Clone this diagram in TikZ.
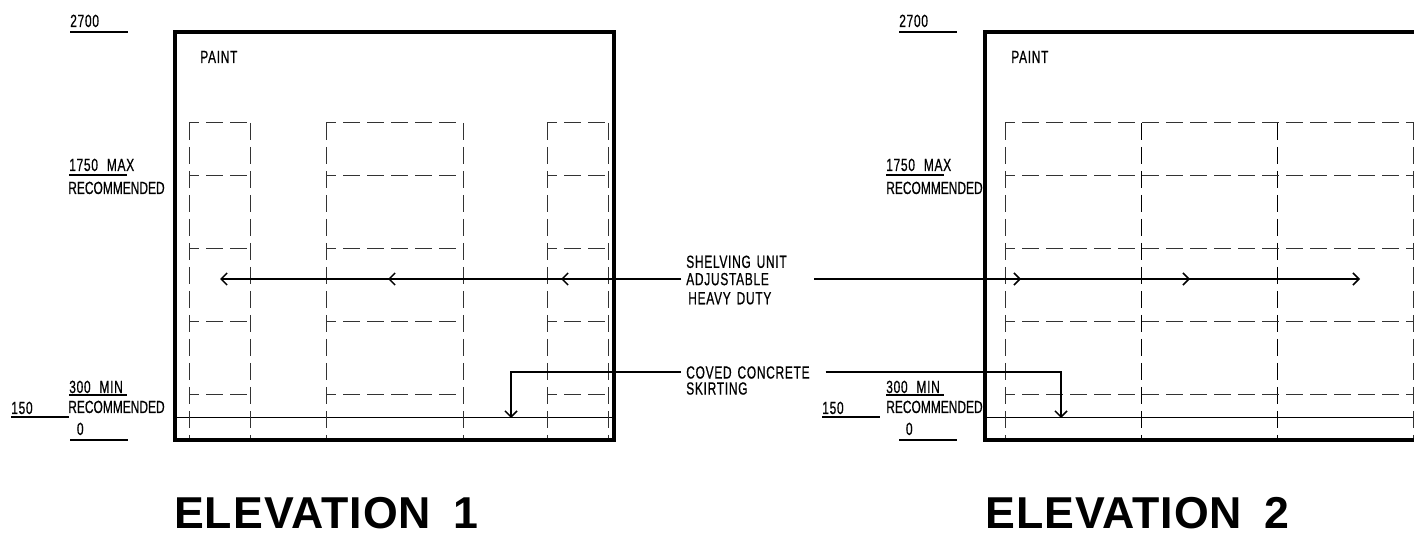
\documentclass[tikz,border=0pt]{standalone}
\usepackage{fontspec}
\usetikzlibrary{arrows.meta}
\newfontfamily\cadfont[FakeStretch=0.68,FakeBold=0.6,WordSpace=2.2,LetterSpace=4]{Liberation Sans}
\newfontfamily\cadtight[FakeStretch=0.68,FakeBold=0.6]{Liberation Sans}
\newfontfamily\titlefont[LetterSpace=2.2,WordSpace=1.7]{Liberation Sans Bold}
\tikzset{
    frameline/.style={line width=2.4pt},
    floorline/.style={line width=1pt},
    shelfline/.style={line width=0.75pt,dash pattern=on 12.75pt off 5.25pt,black!80},
    uprightline/.style={line width=0.7pt,dash pattern=on 12.75pt off 5.25pt,black},
    leader/.style={line width=1.1pt},
    leadertip/.style={leader,-{Straight Barb[length=4.5pt,width=9pt,line width=1.1pt]}},
    cadtext/.style={font=\cadfont\fontsize{13.2}{13.5}\selectfont,inner sep=0pt,anchor=base west},
    rectext/.style={font=\cadtight\fontsize{13.2}{13.5}\selectfont,inner sep=0pt,anchor=base west},
    calloutlabel/.style={font=\cadfont\fontsize{13.2}{13.5}\selectfont,inner xsep=3.75pt,inner ysep=0pt,align=left,anchor=west},
    titletext/.style={font=\titlefont\fontsize{33.5}{36}\selectfont,inner sep=0pt,anchor=base west}
}
\begin{document}
\begin{tikzpicture}[x=0.75pt,y=-0.75pt]
\useasboundingbox (0,0) rectangle (1414,534);

\draw[floorline] (175,417.5) -- (614,417.5);
\draw[floorline] (985,417.5) -- (1414,417.5);

\foreach \ya/\yb in {189/250,326/463,547/608}{
    \draw[shelfline,dash phase=5pt] (\ya,123) -- (\yb,123);
    \draw[shelfline] (\ya,123) -- (\ya,440);
    \draw[shelfline] (\yb,123) -- (\yb,440);
    \foreach \yc in {176,249,322,395}{
        \draw[shelfline,dash phase=5pt] (\ya,\yc) -- (\yb,\yc);
    }
}
\draw[shelfline] (1005,123) -- (1005,440);
\draw[uprightline] (1141,123) -- (1141,440);
\draw[uprightline] (1277,123) -- (1277,440);
\draw[shelfline] (1413.5,123) -- (1413.5,440);
\foreach \yc in {123,176,249,322,395}{
    \draw[shelfline,dash phase=5pt] (1005,\yc) -- (1414,\yc);
}

\draw[frameline] (175,32) rectangle (614,440);
\draw[frameline] (1414,32) -- (985,32) -- (985,440) -- (1414,440);

\foreach \lname/\lx/\ly/\lbase/\ltext in {
    topa/70/32/27/2700, maxa/69/175/171/1750 MAX, mina/69/395/393/300 MIN, skirta/11/417/414/150, zeroa/70/440/435/{\hspace{5pt}0},
    topb/899/32/27/2700, maxb/886/175/171/1750 MAX, minb/886/395/393/300 MIN, skirtb/822/417/414/150, zerob/899/440/435/{\hspace{5pt}0}}{
    \node[cadtext] (\lname) at (\lx,\lbase) {\ltext};
    \coordinate (\lname line) at (\lx,\ly);
    \draw[line width=0.8pt] (\lname line) -- ++(58,0);
    \draw[line width=1.5pt] (\lname line) -- ++(28,0);
}

\node[rectext] (reca) at (68,194) {RECOMMENDED};
\node[rectext] (recc) at (68,413) {RECOMMENDED};
\node[rectext] (recb) at (886,194) {RECOMMENDED};
\node[rectext] (recd) at (886,413) {RECOMMENDED};
\node[cadtext] (painta) at (200,63) {PAINT};
\node[cadtext] (paintb) at (1011,63) {PAINT};

\node[calloutlabel,text width=92pt] (shelving) at (681,280) {SHELVING UNIT\\[-0.5pt]ADJUSTABLE\\[0.8pt]\hspace{1.5pt}HEAVY DUTY};
\node[calloutlabel,text width=100.5pt,anchor=north west] (coved) at (681,366) {COVED CONCRETE\\[-1.5pt]SKIRTING};

\coordinate (shelfa) at (shelving.west |- 0,279);
\coordinate (shelfb) at (shelving.east |- 0,279);
\foreach \tname/\tx in {tipa/220,tipb/388,tipc/561}{
    \coordinate (\tname) at (\tx,279);
    \draw[leadertip] (shelfa) -- (\tname);
}
\foreach \tname/\tx in {tipd/1021,tipe/1190,tipf/1360}{
    \coordinate (\tname) at (\tx,279);
    \draw[leadertip] (shelfb) -- (\tname);
}

\coordinate (skirta) at (511,418);
\coordinate (skirtb) at (1061,418);
\draw[leadertip] (coved.west |- 0,372) -| (skirta);
\draw[leadertip] (coved.east |- 0,372) -| (skirtb);

\node[titletext] (elevationa) at (174,528) {ELEVATION 1};
\node[titletext] (elevationb) at (985,528) {ELEVATION 2};
\end{tikzpicture}
\end{document}
